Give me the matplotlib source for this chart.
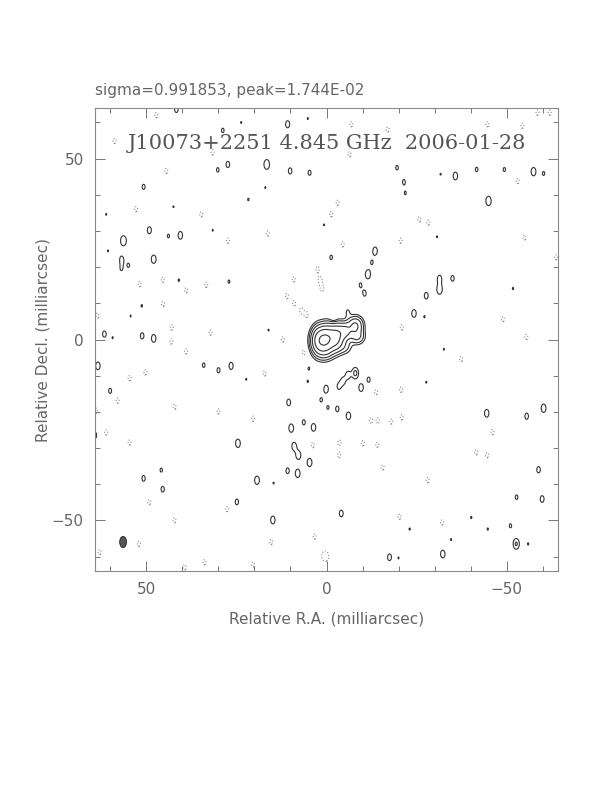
import numpy as np
import matplotlib
matplotlib.use('Agg')
import matplotlib.pyplot as plt
from matplotlib.patches import Ellipse

# title strings
title_left = 'sigma=0.991853, peak=1.744E-02'
title_map = 'J10073+2251 4.845 GHz  2006-01-28'

# core + jet components: ra, dec (mas), amplitude (units of lowest contour), fwhm ra, fwhm dec
core_ra = [2.0, 0.0, -2.5, 0.5, -5.0, -8.0, -8.5, -5.0]
core_dec = [-0.3, 0.0, 0.5, -3.5, 2.2, 3.8, 0.8, -2.0]
core_amp = [24.0, 28.0, 20.0, 2.5, 10.0, 9.0, 4.5, 2.5]
core_wx = [3.0, 3.0, 3.0, 3.5, 3.0, 3.0, 3.0, 3.0]
core_wy = [5.0, 5.0, 5.0, 3.5, 3.5, 3.5, 3.0, 3.0]

# positive noise / weak emission blobs
pos_ra = [10.8, 27.4, 16.6, 30.2, 10.1, 4.7, 50.8, 42.5, 21.7, 49.2, 40.6, 43.9, 56.4,
          48.0, 56.9, 55.0, 41.0, 27.1, 51.3, 61.7, 51.2, 48.0, 41.7, 23.7, 5.2, 61.2,
          60.7, 31.6, 0.7, 17.0, 54.4, 57.0, 16.1, 59.4, 28.8,
          -19.6, -21.5, -21.9, -35.8, -41.7, -49.4, -57.5, -60.3, -45.0, -13.5, -12.6,
          -11.5, -1.3, -9.4, -10.6, -5.9, -31.4, -31.4, -35.0, -27.7, -24.3, -27.2,
          -51.8, -31.7, -30.7,
          63.5, 60.1, 34.1, 30.0, 26.5, 10.5, 1.5, -0.4, 4.9, 9.8, 6.3, 3.6, 9.0, 7.8,
          4.7, 10.8, 8.0, 24.6, 19.3, 24.9, 14.9, 45.9, 50.8, 45.5, 64.4, 14.7, 5.2, 22.3,
          -8.0, -6.0, -4.6, -3.4, -11.7, -9.6, 0.1, -3.0, -6.1, -44.5, -55.6, -60.3, -58.9,
          -52.8, -59.9, -4.1, -51.1, -52.7, -56.0, -17.5, -32.3, -40.2, -44.8, -23.1,
          -32.6, -27.7, -20.0, -34.6]
pos_dec = [59.5, 48.4, 48.4, 46.9, 46.6, 46.1, 42.2, 36.7, 38.7, 30.2, 28.8, 28.6, 27.3,
           22.2, 22.2, 20.5, 16.4, 16.0, 9.3, 1.5, 1.0, 0.3, 63.6, 60.0, 61.1, 34.6,
           24.5, 30.2, 31.7, 42.0, 6.5, 19.5, 2.6, 0.5, 57.8,
           47.5, 43.6, 40.4, 45.2, 47.0, 47.0, 46.4, 45.9, 38.3, 24.5, 21.3,
           18.0, 22.7, 15.1, 12.7, 7.6, 16.8, 13.8, 16.9, 12.1, 7.2, 6.3,
           14.1, 45.7, 28.4,
           -7.3, -14.2, -7.1, -8.5, -7.3, -17.4, -16.7, -18.8, -8.0, -24.5, -22.9, -24.3,
           -29.5, -32.0, -34.0, -36.3, -37.0, -28.7, -38.9, -44.9, -49.9, -36.1, -38.4,
           -41.4, -26.5, -39.7, -11.6, -11.0,
           -9.3, -9.8, -11.5, -13.0, -11.1, -13.3, -13.7, -19.2, -21.1, -20.4, -21.2, -19.0,
           -36.0, -43.6, -44.1, -48.1, -51.5, -56.5, -56.5, -60.2, -59.3, -49.2, -52.4,
           -52.4, -2.7, -11.8, -60.4, -55.3]
pos_amp = [1.4, 1.3, 1.9, 1.15, 1.3, 1.2, 1.2, 1.03, 1.05, 1.4, 1.5, 1.1, 2.0,
           1.6, 1.3, 1.1, 1.05, 1.08, 1.05, 1.3, 1.3, 1.5, 1.3, 1.03, 1.03, 1.03,
           1.03, 1.03, 1.03, 1.03, 1.03, 1.03, 1.03, 1.03, 1.15,
           1.15, 1.15, 1.05, 1.5, 1.15, 1.12, 1.6, 1.12, 1.8, 1.5, 1.1,
           1.7, 1.15, 1.1, 1.2, 1.1, 1.4, 1.8, 1.25, 1.35, 1.5, 1.04,
           1.04, 1.03, 1.03,
           1.5, 1.2, 1.15, 1.2, 1.4, 1.35, 1.12, 1.1, 1.05, 1.6, 1.2, 1.5,
           1.5, 1.6, 1.6, 1.25, 1.6, 1.6, 1.6, 1.25, 1.5, 1.12, 1.25,
           1.25, 1.4, 1.03, 1.03, 1.03,
           2.4, 1.4, 1.3, 1.2, 1.2, 1.5, 1.5, 1.25, 1.5, 1.5, 1.3, 1.6,
           1.3, 1.15, 1.35, 1.35, 1.12, 2.2, 1.04, 1.35, 1.5, 1.04, 1.04,
           1.04, 1.03, 1.03, 1.03, 1.03]

# negative blobs (dotted contours)
neg_ra = [47.3, 58.9, 31.6, 44.5, 52.9, 34.8, 16.3, 27.4, 51.9, 45.5, 39.0, 33.4, 9.1,
          2.5, 1.8, 1.2, 11.0, 9.0, 7.0, 5.5, 45.4, 63.6, 43.0, 32.2, 12.1,
          -6.9, -44.7, -54.4, -58.6, -62.0, -17.0, -6.4, -53.1, -3.1, -1.3, -25.8, -28.3,
          -20.6, -4.5, -55.0, -63.8, -49.0, -20.9, -55.5, -2.0,
          43.1, 39.0, 54.7, 50.3, 58.0, 42.2, 30.0, 17.2, 6.3, 61.2, 54.7, 64.0, 20.4,
          3.8, 49.2, 27.6, 42.2, 52.1, 63.0, 15.4, 3.3, 0.7, 39.4, 33.9, 20.4,
          -37.4, -13.8, -20.7, -12.3, -14.3, -18.0, -20.9, -3.6, -10.1, -14.1, -3.5,
          -15.6, -28.1, -41.6, -44.6, -46.1, -20.3, -32.1, 0.0]
neg_dec = [62.0, 54.9, 51.7, 46.6, 36.0, 34.6, 29.3, 27.3, 15.3, 16.5, 13.6, 15.1, 16.6,
           19.5, 16.5, 14.0, 12.0, 10.0, 8.0, 6.8, 9.8, 6.6, 3.3, 1.9, 0.0,
           59.5, 59.5, 59.1, 62.7, 62.7, 58.0, 51.2, 43.8, 37.8, 34.6, 33.2, 32.3,
           27.3, 26.3, 28.2, 22.7, 5.6, 3.3, 0.7, 6.0,
           -0.6, -3.3, -10.7, -9.1, -16.9, -18.6, -19.9, -9.4, -3.6, -25.7, -28.5, -19.7,
           -21.9, -29.2, -45.0, -46.9, -50.0, -56.5, -58.8, -56.0, -54.5, -59.8, -63.0,
           -61.6, -62.2,
           -5.4, -14.6, -13.9, -22.4, -22.4, -22.7, -21.5, -28.5, -28.7, -29.1, -32.0,
           -35.4, -38.9, -31.2, -32.0, -25.6, -49.0, -50.6, -60.0]

levels_pos = [1, 2, 4, 8, 16, 32]
levels_neg = [-1]

# beam
beam_ra, beam_dec = 56.5, -56.0
beam_wx, beam_wy = 1.9, 3.1

# build the image on a grid
ra = np.linspace(-65, 65, 651)
dec = np.linspace(-65, 65, 651)
X, Y = np.meshgrid(ra, dec)
img = np.zeros_like(X)
k = 1 / (2 * np.sqrt(2 * np.log(2)))

def add_gauss(x0, y0, a, wx, wy):
    sx, sy = wx * k, wy * k
    return a * np.exp(-((X - x0) ** 2 / (2 * sx ** 2) + (Y - y0) ** 2 / (2 * sy ** 2)))

for x0, y0, a, wx, wy in zip(core_ra, core_dec, core_amp, core_wx, core_wy):
    img += add_gauss(x0, y0, a, wx, wy)
for x0, y0, a in zip(pos_ra, pos_dec, pos_amp):
    img += add_gauss(x0, y0, a, 1.6, 2.8)
for x0, y0 in zip(neg_ra, neg_dec):
    img += add_gauss(x0, y0, -1.2, 1.6, 2.8)

fig = plt.figure(figsize=(6.12, 7.92), dpi=100)
ax = fig.add_axes([95 / 612, 221 / 792, 463 / 612, 463 / 792])

ax.contour(X, Y, img, levels=levels_pos, colors='#333333', linewidths=0.8, linestyles='-')
ax.contour(X, Y, img, levels=levels_neg, colors='#888888', linewidths=0.8, linestyles=':')

ax.add_patch(Ellipse((beam_ra, beam_dec), beam_wx, beam_wy, facecolor='#555555',
                     edgecolor='#222222', linewidth=0.6))

ax.set_xlim(64.3, -64.3)
ax.set_ylim(-64, 64)
ax.set_xticks([50, 0, -50])
ax.set_yticks([-50, 0, 50])
ax.set_xticks(np.arange(-60, 61, 10), minor=True)
ax.set_yticks(np.arange(-60, 61, 10), minor=True)
ax.tick_params(which='both', direction='in', top=True, right=True, color='#777777',
               width=0.7, labelsize=11, labelcolor='#666666', pad=8)
ax.tick_params(which='major', length=7)
ax.tick_params(which='minor', length=3.5)
for s in ax.spines.values():
    s.set_color('#888888')
    s.set_linewidth(0.8)

ax.set_xlabel('Relative R.A. (milliarcsec)', fontsize=11, color='#666666', labelpad=10)
ax.set_ylabel('Relative Decl. (milliarcsec)', fontsize=11, color='#666666', labelpad=1)
ax.text(0.0, 1.022, title_left, transform=ax.transAxes, fontsize=11, color='#666666',
        ha='left', va='bottom')
ax.text(0.5, 0.924, title_map, transform=ax.transAxes, fontsize=15, color='#555555',
        ha='center', va='center', family='DejaVu Serif')

fig.savefig('out.png', dpi=100)
